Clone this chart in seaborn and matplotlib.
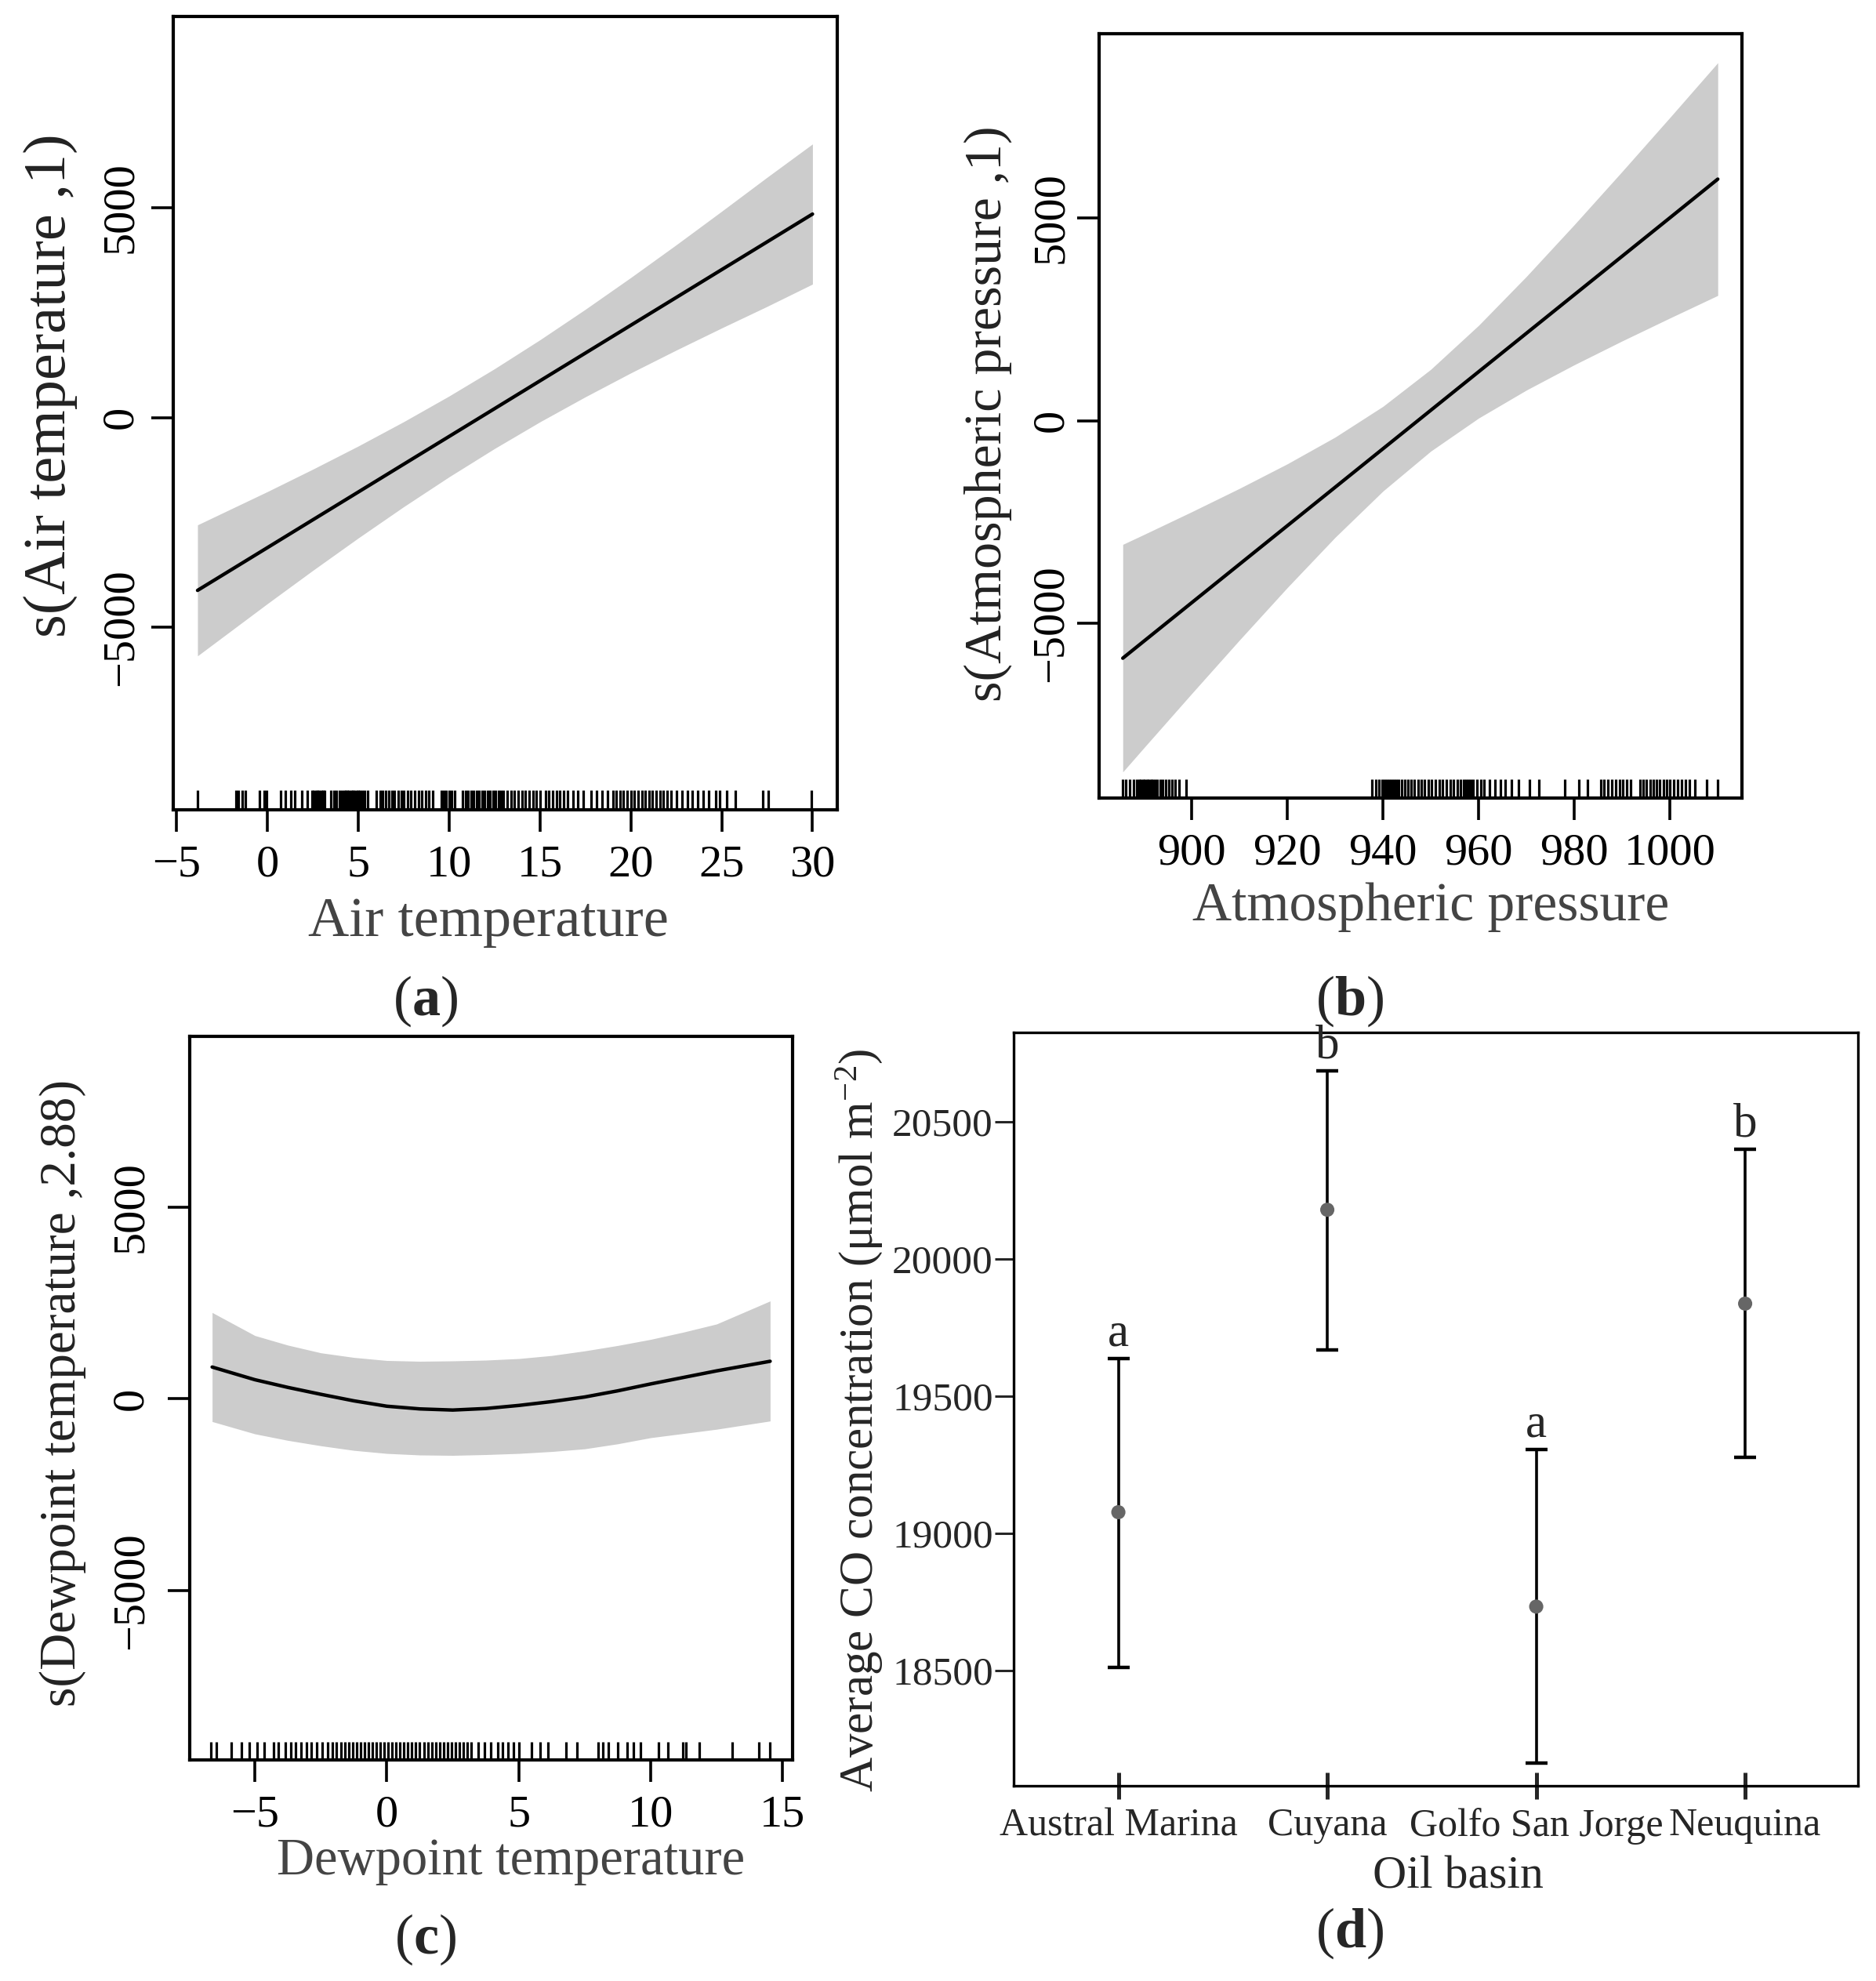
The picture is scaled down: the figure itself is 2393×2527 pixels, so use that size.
import numpy as np
import pandas as pd
import matplotlib
matplotlib.use("Agg")
import matplotlib.pyplot as plt
import seaborn as sns

# -------------------------
# Data
# -------------------------
# (a) s(Air temperature, 1)
air_x = [-3.85, 0, 2.5, 5, 7.5, 10, 12.5, 15, 17.5, 20, 22.5, 25, 27.5, 30]
air_fit = [-4120, -3100, -2437, -1775, -1112, -450, 212, 875, 1537, 2200, 2862, 3525, 4187, 4850]
air_upper = [-2559, -1765, -1231, -679, -99, 513, 1163, 1853, 2580, 3337, 4117, 4916, 5726, 6520]
air_lower = [-5681, -4435, -3643, -2871, -2125, -1413, -739, -103, 494, 1063, 1607, 2134, 2648, 3180]
air_rug = [-3.85, -1.74, -1.6, -1.38, -1.2, -0.46, -0.2, -0.05, 0.71, 1.0, 1.3, 1.5,
           1.88, 2.2, 2.45, 2.55, 2.65, 2.75, 2.85, 2.95, 3.05, 3.15, 3.5, 3.65, 3.8,
           3.95, 4.1, 4.2, 4.3, 4.4, 4.5, 4.6, 4.7, 4.8, 4.9, 5.0, 5.1, 5.2, 5.35, 5.5,
           6.0, 6.2, 6.35, 6.5, 6.7, 6.85, 7.0, 7.2, 7.35, 7.5, 7.7, 7.9, 8.1, 8.3, 8.5,
           8.7, 8.9, 9.1, 9.55, 9.7, 9.85, 10.0, 10.15, 10.3, 10.75, 10.9, 11.05, 11.2,
           11.35, 11.5, 11.65, 11.8, 11.95, 12.1, 12.25, 12.4, 12.55, 12.7, 12.85, 13.0,
           13.2, 13.4, 13.6, 13.8, 14.0, 14.2, 14.4, 14.6, 14.8, 15.0, 15.3, 15.5, 15.7,
           15.9, 16.1, 16.3, 16.5, 16.8, 17.1, 17.4, 17.8, 18.1, 18.4, 18.7, 19.0, 19.2,
           19.4, 19.6, 19.8, 20.0, 20.2, 20.4, 20.6, 20.8, 21.0, 21.2, 21.4, 21.6, 21.8,
           22.0, 22.2, 22.5, 22.8, 23.1, 23.4, 23.7, 24.0, 24.3, 24.67, 24.9, 25.3,
           25.75, 27.26, 27.56, 29.93]

# (b) s(Atmospheric pressure, 1)
pres_x = [885.6, 890, 900, 910, 920, 930, 940, 950, 960, 970, 980, 990, 1000, 1010]
pres_fit = [-5853, -5435, -4486, -3537, -2588, -1639, -690, 259, 1208, 2157, 3106, 4055, 5004, 5956]
pres_upper = [-3049, -2806, -2245, -1668, -1063, -404, 354, 1267, 2351, 3558, 4833, 6144, 7476, 8824]
pres_lower = [-8657, -8064, -6727, -5406, -4113, -2874, -1734, -749, 65, 756, 1379, 1966, 2532, 3088]
pres_rug = [885.6, 886.3, 887.0, 887.8, 888.5, 889.0, 889.4, 889.8, 890.2, 890.6, 891.0,
            891.4, 891.8, 892.3, 892.8, 893.4, 894.0, 894.6, 895.2, 895.9, 896.6, 897.4,
            898.8, 937.7, 938.5, 939.2, 939.8, 940.3, 940.8, 941.3, 941.8, 942.3, 942.8,
            943.3, 943.9, 944.5, 945.2, 945.9, 946.6, 947.3, 948.0, 948.7, 949.5, 950.2,
            951.0, 951.8, 952.5, 953.2, 954.0, 954.8, 955.5, 956.2, 956.8, 957.3, 957.8,
            958.3, 958.9, 959.6, 960.4, 961.2, 962.2, 963.5, 964.6, 965.5, 966.8, 968.3,
            970.7, 972.6, 978.0, 981.0, 982.8, 985.5, 986.2, 987.0, 987.8, 988.6, 989.4,
            990.2, 991.0, 991.8, 993.7, 994.4, 995.1, 995.8, 996.5, 997.2, 997.9, 998.6,
            999.3, 1000.0, 1000.8, 1001.6, 1002.4, 1003.2, 1004.0, 1005.2, 1007.6, 1009.9]

# (c) s(Dewpoint temperature, 2.88)
dew_x = [-6.62, -5, -3.75, -2.5, -1.25, 0, 1.25, 2.5, 3.75, 5, 6.25, 7.5, 8.75, 10, 11.25, 12.5, 14.53]
dew_fit = [830, 500, 300, 120, -50, -190, -260, -290, -250, -170, -70, 50, 210, 390, 560, 730, 980]
dew_upper = [2250, 1650, 1400, 1200, 1080, 1000, 980, 990, 1010, 1050, 1130, 1250, 1390, 1550, 1740, 1950, 2550]
dew_lower = [-590, -910, -1080, -1220, -1340, -1420, -1460, -1470, -1450, -1420, -1370, -1300, -1170, -1010, -900, -790, -575]
dew_rug = [-6.67, -6.45, -5.9, -5.5, -5.2, -4.9, -4.65, -4.3, -4.1, -3.85, -3.65, -3.45,
           -3.25, -3.05, -2.85, -2.65, -2.45, -2.25, -2.05, -1.9, -1.75, -1.6, -1.45,
           -1.3, -1.15, -1.0, -0.85, -0.7, -0.55, -0.4, -0.25, -0.1, 0.05, 0.2, 0.35,
           0.5, 0.65, 0.8, 0.95, 1.1, 1.25, 1.4, 1.55, 1.7, 1.85, 2.0, 2.15, 2.3, 2.45,
           2.6, 2.75, 2.9, 3.05, 3.2, 3.45, 3.7, 3.95, 4.2, 4.4, 4.6, 4.8, 5.0, 5.5, 5.8,
           6.1, 6.8, 7.2, 8.0, 8.2, 8.4, 8.75, 9.11, 9.34, 9.62, 10.31, 10.65, 11.21,
           11.33, 11.84, 13.09, 14.11, 14.51]

# (d) average CO by oil basin
basins = ["Austral Marina", "Cuyana", "Golfo San Jorge", "Neuquina"]
co_mean = [19077, 20179, 18733, 19837]
co_low = [18512, 19667, 18163, 19277]
co_high = [19637, 20686, 19305, 20400]
co_group = ["a", "b", "a", "b"]

# -------------------------
# Style
# -------------------------
sns.set_style("ticks")
plt.rcParams["font.family"] = ["Liberation Serif", "DejaVu Serif"]
plt.rcParams["mathtext.fontset"] = "custom"
plt.rcParams["mathtext.rm"] = "Liberation Serif"
plt.rcParams["mathtext.it"] = "Liberation Serif:italic"
plt.rcParams["mathtext.bf"] = "Liberation Serif:bold"

W, H = 2393, 2527
fig = plt.figure(figsize=(W / 100, H / 100), dpi=100)


def place(l, t, r, b):
    return fig.add_axes([l / W, 1 - b / H, (r - l) / W, (b - t) / H])


BAND = "#cccccc"
TICK_FS = 42


def gam_panel(ax, x, fit, lo, hi, rug, xlim, ylim, xticks, xlabel, ylabel,
              xlab_pos, ylab_pos, ypad, xfs, yfs):
    ax.fill_between(x, lo, hi, color=BAND, linewidth=0)
    sns.lineplot(x=x, y=fit, ax=ax, color="black", linewidth=3.2)
    sns.rugplot(x=rug, ax=ax, height=0.025, color="black", linewidth=2.3)
    ax.set_xlim(*xlim)
    ax.set_ylim(*ylim)
    ax.set_xticks(xticks)
    ax.set_yticks([-5000, 0, 5000])
    for s in ax.spines.values():
        s.set_visible(True)
        s.set_linewidth(3.0)
        s.set_color("black")
    ax.tick_params(axis="both", direction="out", length=20, width=2.6,
                   labelsize=TICK_FS, color="black", labelcolor="black",
                   bottom=True, left=True)
    ax.tick_params(axis="x", pad=12)
    ax.tick_params(axis="y", pad=ypad, labelrotation=90)
    for lbl in ax.get_yticklabels():
        lbl.set_va("center")
    ax.set_xlabel(xlabel, fontsize=xfs, color="#444444", va="center")
    ax.set_ylabel(ylabel, fontsize=yfs, color="#222222", va="center")
    ax.xaxis.set_label_coords(xlab_pos[0], xlab_pos[1])
    ax.yaxis.set_label_coords(ylab_pos[0], ylab_pos[1])


ax_a = place(220.7, 21, 1067.7, 1033)
gam_panel(ax_a, air_x, air_fit, air_lower, air_upper, air_rug,
          (-5.2, 31.35), (-9350, 9560), range(-5, 31, 5),
          "Air temperature", "s(Air temperature ,1)",
          (0.475, -0.142), (-0.185, 0.535), 9, 52, 55)

ax_b = place(1401.7, 43, 2221.7, 1018)
gam_panel(ax_b, pres_x, pres_fit, pres_lower, pres_upper, pres_rug,
          (880.6, 1015.0), (-9300, 9540), range(900, 1001, 20),
          "Atmospheric pressure", "s(Atmospheric pressure ,1)",
          (0.516, -0.143), (-0.172, 0.503), 5, 50, 49)

ax_c = place(242, 1322, 1011, 2245)
gam_panel(ax_c, dew_x, dew_fit, dew_lower, dew_upper, dew_rug,
          (-7.47, 15.38), (-9400, 9440), range(-5, 16, 5),
          "Dewpoint temperature", "s(Dewpoint temperature ,2.88)",
          (0.532, -0.14), (-0.21, 0.507), 15, 48, 47)

# (d) means with error bars
ax_d = place(1293.3, 1316.7, 2370, 2278)
df = pd.DataFrame({"basin": basins, "mean": co_mean, "low": co_low, "high": co_high})
yerr = np.array([df["mean"] - df["low"], df["high"] - df["mean"]])
ax_d.errorbar(df["basin"], df["mean"], yerr=yerr, fmt="none", ecolor="black",
              elinewidth=2.6, capsize=10, capthick=3.2)
sns.scatterplot(data=df, x="basin", y="mean", ax=ax_d, color="#666666", s=170,
                edgecolor="none", zorder=5)
for i, (g, hi) in enumerate(zip(co_group, co_high)):
    ax_d.text(i, hi + 10, g, ha="center", va="bottom", fontsize=44)
ax_d.set_xlim(-0.5, 3.54)
ax_d.set_ylim(18080, 20826)
ax_d.set_yticks([18500, 19000, 19500, 20000, 20500])
for s in ax_d.spines.values():
    s.set_visible(True)
    s.set_linewidth(2.4)
    s.set_color("black")
ax_d.tick_params(axis="y", direction="out", length=17, width=2.2, labelsize=37, pad=2,
                 left=True)
ax_d.tick_params(axis="x", direction="inout", length=24, width=3.6, labelsize=36, pad=8,
                 bottom=True)
ax_d.set_xlabel("Oil basin", fontsize=43, va="center")
ax_d.set_ylabel("Average CO concentration (μmol m$^{-2}$)", fontsize=44, va="center")
ax_d.xaxis.set_label_coords(0.526, -0.121)
ax_d.yaxis.set_label_coords(-0.183, 0.485)

# panel letters
for lab, (px, py) in zip("abcd", [(543, 1277), (1722, 1277), (543, 2474), (1722, 2466)]):
    fig.text(px / W, 1 - py / H, "($\\mathbf{%s}$)" % lab, ha="center", va="center",
             fontsize=52)

fig.savefig("out.png", dpi=100, facecolor="white")
